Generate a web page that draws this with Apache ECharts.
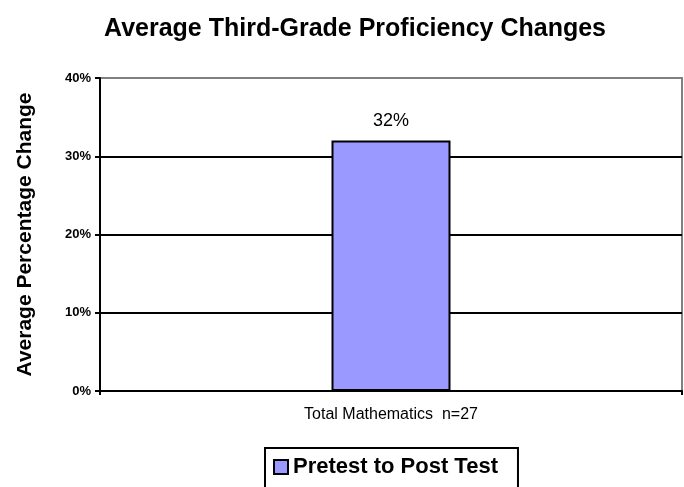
<!DOCTYPE html>
<html>
<head>
<meta charset="utf-8">
<script src="https://cdn.jsdelivr.net/npm/echarts@6/dist/echarts.min.js"></script>
<style>
  html, body { margin: 0; padding: 0; background: #fff; }
  #chart { width: 684px; height: 487px; }
</style>
</head>
<body>
<div id="chart"></div>
<script>
var categories = ['Total Mathematics  n=27'];
var seriesName = 'Pretest to Post Test';
var changeValues = [0.32];
var yTicks = [0, 0.1, 0.2, 0.3, 0.4];

var font = "'Liberation Sans', Arial, sans-serif";

document.addEventListener("DOMContentLoaded", () => {
    echarts.init(document.querySelector("#chart")).setOption({
        animation: false,
        title: {
            text: 'Average Third-Grade Proficiency Changes',
            left: 350,
            textAlign: 'center',
            top: 12,
            textStyle: { fontFamily: font, fontSize: 25, fontWeight: 'bold', color: '#000' }
        },
        legend: {
            data: [seriesName],
            left: 265,
            top: 448,
            icon: 'rect',
            itemWidth: 14,
            itemHeight: 14,
            borderColor: '#000',
            borderWidth: 2,
            padding: [8, 20, 30, 8],
            textStyle: { fontFamily: font, fontSize: 22, fontWeight: 'bold', color: '#000' }
        },
        grid: {
            left: 100,
            right: 2,
            top: 78,
            bottom: 96,
            outerBoundsMode: 'none',
            containLabel: false,
            show: true,
            borderColor: '#808080',
            borderWidth: 2
        },
        xAxis: {
            type: 'category',
            data: categories,
            axisLine: { lineStyle: { color: '#000', width: 2 } },
            axisTick: { show: true, length: 4, lineStyle: { color: '#000', width: 2 } },
            axisLabel: { fontFamily: font, fontSize: 16, color: '#000', margin: 16 }
        },
        yAxis: {
            type: 'value',
            min: yTicks[0],
            max: yTicks[yTicks.length - 1],
            interval: 0.1,
            name: 'Average Percentage Change',
            nameLocation: 'middle',
            nameGap: 64,
            nameTextStyle: { fontFamily: font, fontSize: 21, fontWeight: 'bold', color: '#000' },
            axisLine: { show: true, lineStyle: { color: '#000', width: 2 } },
            axisTick: { show: true, length: 5, lineStyle: { color: '#000', width: 2 } },
            axisLabel: {
                fontFamily: font, fontSize: 13, fontWeight: 'bold', color: '#000', margin: 9,
                formatter: v => Math.round(v * 100) + '%'
            },
            splitLine: {
                lineStyle: { color: ['#000', '#000', '#000', '#000', '#808080'], width: 2 }
            }
        },
        series: [{
            name: seriesName,
            type: 'bar',
            data: changeValues,
            barWidth: 119,
            itemStyle: { color: '#9999FF', borderColor: '#000', borderWidth: 2 },
            label: {
                show: true,
                position: 'top',
                distance: 11,
                fontFamily: font,
                fontSize: 18,
                color: '#000',
                formatter: p => Math.round(p.value * 100) + '%'
            }
        }]
    });
});
</script>
</body>
</html>
